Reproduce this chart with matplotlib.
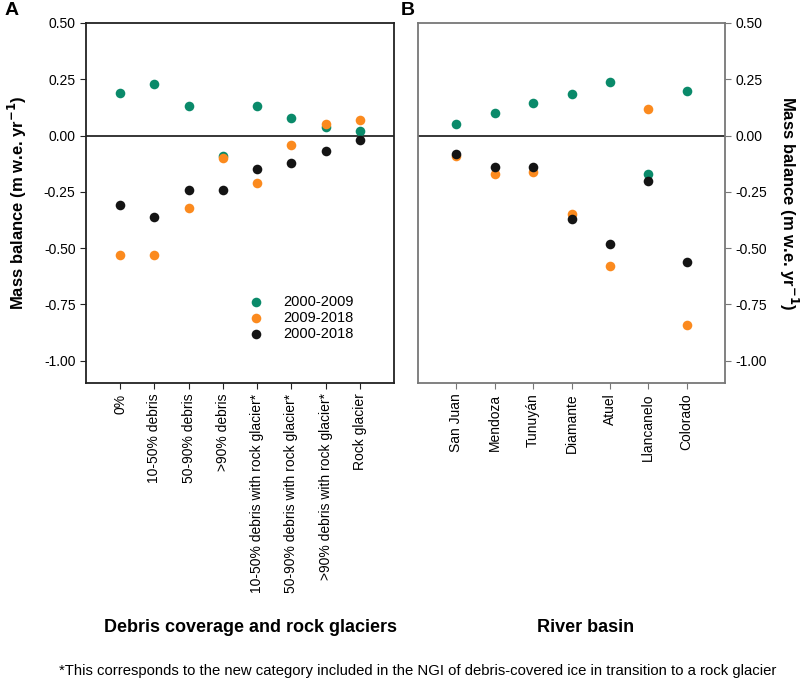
import numpy as np
import matplotlib.pyplot as plt

# debris coverage categories (panel A)
debris_labels = ['0%', '10-50% debris', '50-90% debris', '>90% debris',
                 '10-50% debris with rock glacier*', '50-90% debris with rock glacier*',
                 '>90% debris with rock glacier*', 'Rock glacier']
debris_0009 = [0.19, 0.23, 0.13, -0.09, 0.13, 0.08, 0.04, 0.02]
debris_0918 = [-0.53, -0.53, -0.32, -0.10, -0.21, -0.04, 0.05, 0.07]
debris_0018 = [-0.31, -0.36, -0.24, -0.24, -0.15, -0.12, -0.07, -0.02]

# river basins (panel B)
basin_labels = ['San Juan', 'Mendoza', 'Tunuyán', 'Diamante', 'Atuel', 'Llancanelo', 'Colorado']
basin_0009 = [0.05, 0.10, 0.145, 0.185, 0.24, -0.17, 0.20]
basin_0918 = [-0.09, -0.17, -0.16, -0.35, -0.58, 0.12, -0.84]
basin_0018 = [-0.08, -0.14, -0.14, -0.37, -0.48, -0.20, -0.56]

periods = ['2000-2009', '2009-2018', '2000-2018']
colors = ['#0A8A6A', '#FB8A1E', '#141414']

plt.rcParams['font.family'] = ['Liberation Sans', 'DejaVu Sans']
narrow = ['Liberation Sans Narrow', 'DejaVu Sans Condensed', 'Liberation Sans']

fig = plt.figure(figsize=(8.09, 6.8), dpi=100)
ax1 = fig.add_axes([86 / 809, 1 - 383 / 680, 308 / 809, 360 / 680])
ax2 = fig.add_axes([418 / 809, 1 - 383 / 680, 307 / 809, 360 / 680])

yticks = [-1.0, -0.75, -0.5, -0.25, 0.0, 0.25, 0.5]


def draw_panel(ax, labels, series, spine_color):
    x = np.arange(1, len(labels) + 1)
    for vals, c, lab in zip(series, colors, periods):
        ax.scatter(x, vals, s=48, color=c, label=lab, zorder=3, linewidths=0)
    ax.axhline(0, color='black', lw=1.1, zorder=2)
    ax.set_xlim(0, len(labels) + 1)
    ax.set_ylim(-1.1, 0.5)
    ax.set_xticks(x)
    ax.set_xticklabels(labels, rotation=90, fontsize=10)
    ax.set_yticks(yticks)
    ax.set_yticklabels(['%.2f' % v for v in yticks], fontsize=10)
    ax.tick_params(axis='both', direction='out', length=4, width=0.8, color=spine_color)
    for sp in ax.spines.values():
        sp.set_color(spine_color)
        sp.set_linewidth(1.3)


draw_panel(ax1, debris_labels, [debris_0009, debris_0918, debris_0018], '#222222')
draw_panel(ax2, basin_labels, [basin_0009, basin_0918, basin_0018], '#777777')

ax1.set_ylabel('Mass balance (m w.e. yr$^{\\mathbf{-1}}$)', fontsize=12, fontweight='bold', labelpad=11)

ax2.yaxis.tick_right()
ax2.yaxis.set_label_position('right')
ax2.set_ylabel('Mass balance (m w.e. yr$^{\\mathbf{-1}}$)', fontsize=12, fontweight='bold',
               rotation=270, labelpad=24)

ax1.legend(loc='upper left', bbox_to_anchor=(0.485, 0.262), frameon=False, fontsize=10.5,
           handletextpad=0.9, labelspacing=0.15, scatterpoints=1, borderaxespad=0)

fig.text(5 / 809, 1 - 2 / 680, 'A', fontsize=14, fontweight='bold', va='top', ha='left')
fig.text(401 / 809, 1 - 2 / 680, 'B', fontsize=14, fontweight='bold', va='top', ha='left')

fig.text(250 / 809, 1 - 628 / 680, 'Debris coverage and rock glaciers', family=narrow,
         fontsize=13, fontweight='bold', ha='center', va='center')
fig.text(586 / 809, 1 - 628 / 680, 'River basin', family=narrow,
         fontsize=13, fontweight='bold', ha='center', va='center')
fig.text(418 / 809, 1 - 671 / 680,
         '*This corresponds to the new category included in the NGI of debris-covered ice in transition to a rock glacier',
         family=narrow, fontsize=10.7, ha='center', va='center')

plt.savefig('out.png', dpi=100)
